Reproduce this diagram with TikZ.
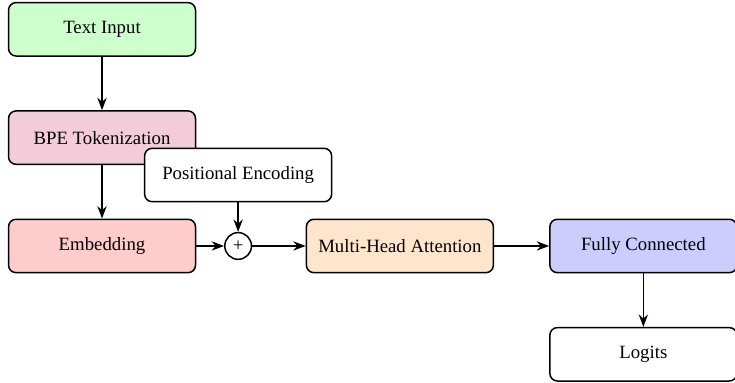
\documentclass[tikz,border=0pt]{standalone}
\usepackage{fontspec}
\setmainfont{Liberation Serif}
\usetikzlibrary{positioning}
\usetikzlibrary{arrows.meta}
\begin{document}
\begin{tikzpicture}[
			block/.style = {
				draw, thick, rounded corners, minimum width=3.5cm, minimum height=1cm
			},
			adder/.style = {
				draw, thick, circle, minimum size=0.5cm, inner sep=0pt
			}]
			\useasboundingbox (-1.91,-2.565) rectangle (11.85,4.605);
			\node (emb) [block, fill=red!20] {Embedding};
			\node (tok) [block, fill=purple!20, above = 1cm of emb] {BPE Tokenization};
			\node (inp) [block, fill=green!20, above = 1cm of tok] {Text Input};
			\node (add) [adder, right = 0.52cm of emb] {+};
			\node (pos) [block, fill=white, above = 0.55cm of add] {Positional Encoding};
			\node (att) [block, fill=orange!20, right = 1cm of add] {Multi-Head Attention};
			\node (fc) [block, fill=blue!20, right = 1.03cm of att] {Fully Connected};
			\node (out) [block, below = 1cm of fc] {Logits};
			\path [-Stealth, thick]
			(inp) edge (tok)
			(tok) edge (emb)
			(emb) edge (add)
			(pos) edge (add)
			(add) edge (att)
			(att) edge (fc)
			(fc) edge (out);
		\end{tikzpicture}
\end{document}
